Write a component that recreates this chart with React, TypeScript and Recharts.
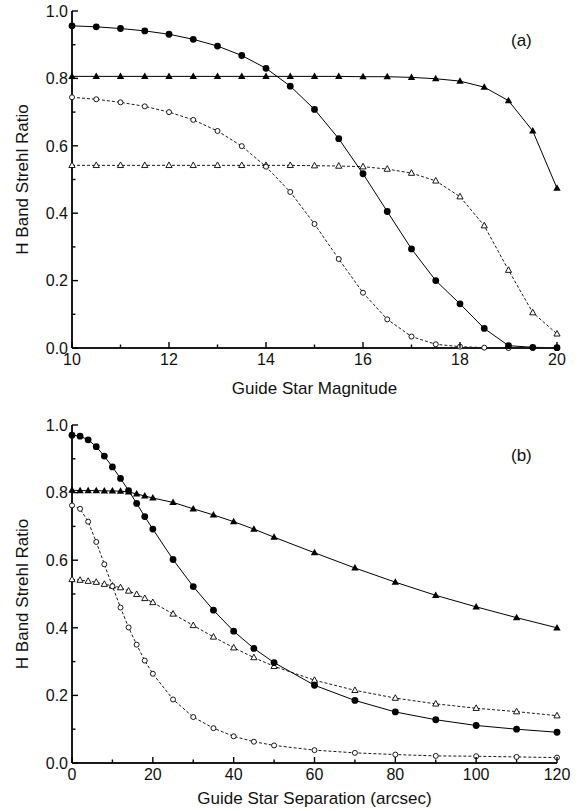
import { LineChart, Line, XAxis, YAxis, Label } from "recharts";

// panel (a): Strehl ratio vs guide star magnitude
const magnitude = [10, 10.5, 11, 11.5, 12, 12.5, 13, 13.5, 14, 14.5, 15, 15.5, 16, 16.5, 17, 17.5, 18, 18.5, 19, 19.5, 20];
const magFilledCircle = [0.956, 0.953, 0.948, 0.941, 0.931, 0.916, 0.896, 0.868, 0.83, 0.777, 0.708, 0.621, 0.517, 0.405, 0.294, 0.2, 0.131, 0.058, 0.007, 0.002, 0.001];
const magFilledTriangle = [0.806, 0.806, 0.806, 0.806, 0.806, 0.806, 0.806, 0.806, 0.806, 0.806, 0.806, 0.806, 0.805, 0.805, 0.803, 0.799, 0.792, 0.774, 0.734, 0.644, 0.474];
const magOpenCircle = [0.744, 0.738, 0.729, 0.717, 0.7, 0.677, 0.644, 0.599, 0.538, 0.463, 0.368, 0.264, 0.164, 0.085, 0.034, 0.011, 0.004, 0.001, 0.0, 0.0, 0.0];
const magOpenTriangle = [0.542, 0.542, 0.542, 0.542, 0.542, 0.542, 0.542, 0.542, 0.542, 0.542, 0.541, 0.54, 0.538, 0.531, 0.519, 0.496, 0.449, 0.363, 0.231, 0.105, 0.042];

// panel (b): Strehl ratio vs guide star separation
const separation = [0, 2, 4, 6, 8, 10, 12, 14, 16, 18, 20, 25, 30, 35, 40, 45, 50, 60, 70, 80, 90, 100, 110, 120];
const sepFilledCircle = [0.97, 0.967, 0.956, 0.936, 0.908, 0.876, 0.842, 0.806, 0.768, 0.729, 0.692, 0.602, 0.522, 0.452, 0.39, 0.339, 0.297, 0.23, 0.185, 0.151, 0.128, 0.111, 0.1, 0.091];
const sepFilledTriangle = [0.807, 0.806, 0.806, 0.806, 0.805, 0.805, 0.804, 0.802, 0.796, 0.79, 0.784, 0.771, 0.752, 0.734, 0.714, 0.692, 0.668, 0.622, 0.577, 0.535, 0.496, 0.462, 0.43, 0.4];
const sepOpenCircle = [0.762, 0.752, 0.714, 0.654, 0.588, 0.523, 0.46, 0.401, 0.35, 0.303, 0.264, 0.188, 0.136, 0.103, 0.079, 0.063, 0.052, 0.038, 0.03, 0.025, 0.021, 0.02, 0.018, 0.016];
const sepOpenTriangle = [0.543, 0.541, 0.538, 0.535, 0.529, 0.524, 0.519, 0.509, 0.499, 0.487, 0.475, 0.441, 0.407, 0.373, 0.341, 0.312, 0.286, 0.245, 0.215, 0.192, 0.175, 0.162, 0.152, 0.14];

const strehlTicks = [0, 0.1, 0.2, 0.3, 0.4, 0.5, 0.6, 0.7, 0.8, 0.9, 1.0];
const magTicks = [10, 11, 12, 13, 14, 15, 16, 17, 18, 19, 20];
const sepTicks = [0, 10, 20, 30, 40, 50, 60, 70, 80, 90, 100, 110, 120];

const font = '"Liberation Sans", Arial, Helvetica, sans-serif';
const ink = "#000";

const magRows = magnitude.map((x, i) => ({
  x,
  fc: magFilledCircle[i],
  ft: magFilledTriangle[i],
  oc: magOpenCircle[i],
  ot: magOpenTriangle[i],
}));

const sepRows = separation.map((x, i) => ({
  x,
  fc: sepFilledCircle[i],
  ft: sepFilledTriangle[i],
  oc: sepOpenCircle[i],
  ot: sepOpenTriangle[i],
}));

const isMajorY = (v: number) => Math.round(v * 10) % 2 === 0;

function AxisTick(props: any) {
  const { x, y, payload, side, isMajor, format } = props;
  const major = isMajor(payload.value);
  const len = major ? 6 : 3.5;
  const textStyle = { fontFamily: font, fontSize: 16, fill: "#111" };
  if (side === "left") {
    return (
      <g>
        <line x1={x} x2={x + len} y1={y} y2={y} stroke={ink} strokeWidth={1.4} />
        {major && (
          <text x={x - 4} y={y} dy="0.36em" textAnchor="end" style={textStyle}>
            {format(payload.value)}
          </text>
        )}
      </g>
    );
  }
  if (side === "right") {
    return <line x1={x} x2={x - len} y1={y} y2={y} stroke={ink} strokeWidth={1.4} />;
  }
  if (side === "top") {
    return <line x1={x} x2={x} y1={y} y2={y + len} stroke={ink} strokeWidth={1.4} />;
  }
  return (
    <g>
      <line x1={x} x2={x} y1={y} y2={y - len} stroke={ink} strokeWidth={1.4} />
      {major && (
        <text x={x} y={y + 5} dy="0.74em" textAnchor="middle" style={textStyle}>
          {format(payload.value)}
        </text>
      )}
    </g>
  );
}

function FilledCircle({ cx, cy }: any) {
  return <circle cx={cx} cy={cy} r={3.4} fill={ink} />;
}
function OpenCircle({ cx, cy }: any) {
  return <circle cx={cx} cy={cy} r={2.5} fill="#fff" stroke={ink} strokeWidth={0.9} />;
}
function FilledTriangle({ cx, cy }: any) {
  return <polygon points={`${cx},${cy - 3.9} ${cx - 3.7},${cy + 2.6} ${cx + 3.7},${cy + 2.6}`} fill={ink} />;
}
function OpenTriangle({ cx, cy }: any) {
  return (
    <polygon
      points={`${cx},${cy - 3.4} ${cx - 3.1},${cy + 2.2} ${cx + 3.1},${cy + 2.2}`}
      fill="#fff"
      stroke={ink}
      strokeWidth={0.9}
    />
  );
}

const axisLine = { stroke: "#1a1a1a", strokeWidth: 2 };
const titleStyle = { fontFamily: font, fontSize: 17, fill: "#111" };

function Panel({ rows, xTicks, xDomain, xMajor, xTitle, height, marginTop, xHeight, xTitleOffset }: any) {
  const fmtX = (v: number) => String(v);
  const fmtY = (v: number) => v.toFixed(1);
  return (
    <LineChart width={582} height={height} data={rows} margin={{ top: marginTop, right: 25, bottom: 0, left: 0 }}>
      <XAxis
        dataKey="x"
        type="number"
        domain={xDomain}
        ticks={xTicks}
        interval={0}
        tickSize={0}
        tickMargin={0}
        tickLine={false}
        axisLine={axisLine}
        height={xHeight}
        tick={(p: any) => <AxisTick {...p} side="bottom" isMajor={xMajor} format={fmtX} />}
      >
        <Label value={xTitle} position="insideBottom" offset={xTitleOffset} style={titleStyle} />
      </XAxis>
      <XAxis
        xAxisId="top"
        orientation="top"
        dataKey="x"
        type="number"
        domain={xDomain}
        ticks={xTicks}
        interval={0}
        tickSize={0}
        tickMargin={0}
        tickLine={false}
        axisLine={axisLine}
        height={0}
        tick={(p: any) => <AxisTick {...p} side="top" isMajor={xMajor} format={fmtX} />}
      />
      <YAxis
        type="number"
        domain={[0, 1]}
        ticks={strehlTicks}
        interval={0}
        tickSize={0}
        tickMargin={0}
        tickLine={false}
        axisLine={axisLine}
        width={72}
        tick={(p: any) => <AxisTick {...p} side="left" isMajor={isMajorY} format={fmtY} />}
      >
        <Label
          value="H Band Strehl Ratio"
          angle={-90}
          position="insideLeft"
          offset={22}
          style={{ ...titleStyle, textAnchor: "middle" }}
        />
      </YAxis>
      <YAxis
        yAxisId="right"
        orientation="right"
        type="number"
        domain={[0, 1]}
        ticks={strehlTicks}
        interval={0}
        tickSize={0}
        tickMargin={0}
        tickLine={false}
        axisLine={axisLine}
        width={0}
        tick={(p: any) => <AxisTick {...p} side="right" isMajor={isMajorY} format={fmtY} />}
      />
      <Line
        dataKey="ot"
        stroke={ink}
        strokeWidth={0.9}
        strokeDasharray="3 2"
        isAnimationActive={false}
        activeDot={false}
        dot={(p: any) => <OpenTriangle key={`ot${p.index}`} cx={p.cx} cy={p.cy} />}
      />
      <Line
        dataKey="oc"
        stroke={ink}
        strokeWidth={0.9}
        strokeDasharray="3 2"
        isAnimationActive={false}
        activeDot={false}
        dot={(p: any) => <OpenCircle key={`oc${p.index}`} cx={p.cx} cy={p.cy} />}
      />
      <Line
        dataKey="ft"
        stroke={ink}
        strokeWidth={1}
        isAnimationActive={false}
        activeDot={false}
        dot={(p: any) => <FilledTriangle key={`ft${p.index}`} cx={p.cx} cy={p.cy} />}
      />
      <Line
        dataKey="fc"
        stroke={ink}
        strokeWidth={1}
        isAnimationActive={false}
        activeDot={false}
        dot={(p: any) => <FilledCircle key={`fc${p.index}`} cx={p.cx} cy={p.cy} />}
      />
    </LineChart>
  );
}

const panelTag = {
  position: "absolute" as const,
  fontFamily: font,
  fontSize: 17,
  lineHeight: "16px",
  color: "#111",
};

export default function App() {
  return (
    <div style={{ position: "absolute", left: 0, top: 0, width: 582, height: 811, background: "#fff" }}>
      <Panel
        rows={magRows}
        xTicks={magTicks}
        xDomain={[10, 20]}
        xMajor={(v: number) => v % 2 === 0}
        xTitle="Guide Star Magnitude"
        height={405}
        marginTop={11}
        xHeight={57}
        xTitleOffset={11}
      />
      <Panel
        rows={sepRows}
        xTicks={sepTicks}
        xDomain={[0, 120]}
        xMajor={(v: number) => v % 20 === 0}
        xTitle="Guide Star Separation (arcsec)"
        height={406}
        marginTop={20}
        xHeight={48}
        xTitleOffset={7}
      />
      <div style={{ ...panelTag, left: 511, top: 33 }}>(a)</div>
      <div style={{ ...panelTag, left: 511, top: 448 }}>(b)</div>
    </div>
  );
}
